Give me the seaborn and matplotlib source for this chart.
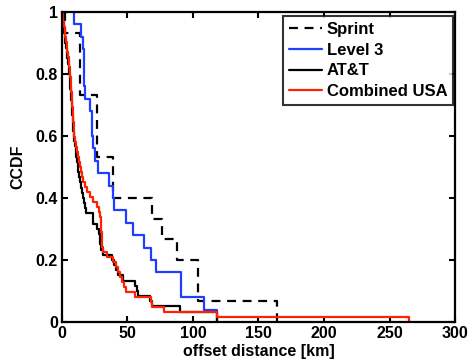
import numpy as np
import pandas as pd
import matplotlib
matplotlib.use("Agg")
import matplotlib.pyplot as plt
import seaborn as sns

# Offset distances (km) per provider, read from the CCDF steps
sprint_km = [2, 14, 14, 14, 27, 27, 27, 39, 39, 69, 76, 88, 104, 104, 164]

level3_km = [9.2, 14.3, 16.3, 16.5, 16.8, 17.0, 17.3, 21.4, 22.6, 22.6, 24, 25,
             27.7, 36, 39, 40, 49, 54.4, 62.8, 68, 72, 90.5, 90.5, 108.5, 118.5]

att_km = [0.3, 0.8, 1.2, 1.7, 2.1, 2.6, 3.0, 3.5, 4.0, 4.5, 5.0, 5.5,
          5.8, 6.1, 6.4, 6.7, 7.0, 7.3, 7.6, 7.9, 8.2, 8.5, 8.8, 9.0,
          9.5, 10, 10.5, 11, 11.5, 12, 12.5, 13,
          13.8, 14.5, 15.3, 16, 17, 17.8, 18.6, 24, 24,
          27, 28, 28.7, 29.3, 30, 31, 38, 40, 41.5, 43, 46.5,
          55.7, 57, 58, 67, 68.5, 90, 118.5, 118.5]

combined_km = [0.5, 1, 1.5, 2, 2.5, 3, 3.5, 4, 4.5, 5, 5.5, 6,
               6.3, 6.6, 6.9, 7.1, 7.4, 7.6, 7.9, 8.1, 8.4, 8.7, 8.9, 9.2, 9.5,
               10.2, 10.9, 11.6, 12.3, 13, 13.6, 14.3, 15,
               16, 17.5, 19, 21.5, 24, 27, 28, 29,
               29.5, 29.8, 30, 30.3, 30.6, 30.9, 31.2, 34, 39,
               41, 42.5, 44, 45.5, 47, 49, 56, 68, 68.5, 78, 118.5, 265]

labels = ["Sprint", "Level 3", "AT&T", "Combined USA"]
x_ticks = [0, 50, 100, 150, 200, 250, 300]
y_ticks = [0, 0.2, 0.4, 0.6, 0.8, 1]
y_ticklabels = ["0", "0.2", "0.4", "0.6", "0.8", "1"]

sns.set_theme(style="ticks")
plt.rcParams["font.family"] = ["Liberation Sans", "DejaVu Sans"]
plt.rcParams["font.weight"] = "bold"
plt.rcParams["text.color"] = "black"
plt.rcParams["axes.labelcolor"] = "black"

fig = plt.figure(figsize=(4.73, 3.64), dpi=100)
ax = fig.add_axes([0.131, 0.1154, 0.831, 0.852])

series = [sprint_km, level3_km, att_km, combined_km]
colors = ["black", "#1f3fff", "black", "#ff2200"]
styles = [(0, (4, 3)), "-", "-", "-"]
for data, lab, col, ls in zip(series, labels, colors, styles):
    sns.ecdfplot(x=np.array(data, dtype=float), complementary=True, ax=ax,
                 color=col, linestyle=ls, linewidth=1.6, label=lab)

ax.set_xlim(0, 300)
ax.set_ylim(0, 1)
ax.set_xticks(x_ticks)
ax.set_yticks(y_ticks)
ax.set_yticklabels(y_ticklabels)
ax.tick_params(direction="in", length=4, width=1.5, top=True, right=True,
               labelsize=11.5, pad=3, colors="black")
for t in ax.get_xticklabels() + ax.get_yticklabels():
    t.set_fontweight("bold")
for sp in ax.spines.values():
    sp.set_linewidth(1.6)
    sp.set_color("black")
ax.set_xlabel("offset distance [km]", fontsize=11.5, fontweight="bold",
              labelpad=2, color="black")
ax.set_ylabel("CCDF", fontsize=11.5, fontweight="bold", labelpad=7, color="black")

leg = ax.legend(loc="upper right", bbox_to_anchor=(0.995, 0.987),
                prop={"weight": "bold", "size": 12}, handlelength=2.0,
                handletextpad=0.25, labelspacing=0.35, borderpad=0.35,
                frameon=True, fancybox=False, edgecolor="black", borderaxespad=0)
leg.get_frame().set_linewidth(1.5)
for t in leg.get_texts():
    t.set_color("black")

fig.savefig("out.png", dpi=100)
